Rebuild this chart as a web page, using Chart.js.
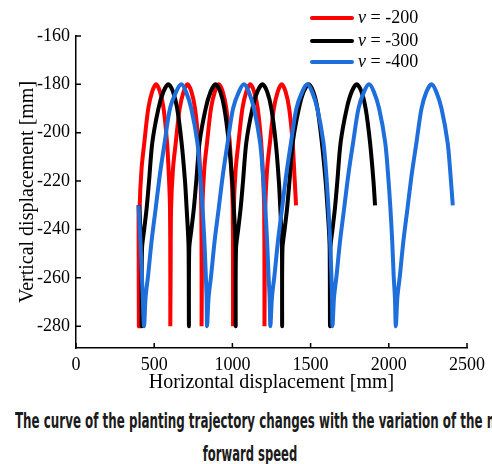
<!DOCTYPE html>
<html>
<head>
<meta charset="utf-8">
<script src="https://cdn.jsdelivr.net/npm/chart.js@4.4.1/dist/chart.umd.min.js"></script>
<style>
  body { margin: 0; background: #fff; }
  #wrap { position: relative; width: 492px; height: 464px; overflow: hidden; }
  #caption1, #caption2 {
    position: absolute; left: 0;
    font-family: "DejaVu Sans", sans-serif;
    font-weight: bold; font-size: 21px; color: #1b1b1b; white-space: nowrap;
  }
  #caption1 { top: 409px; left: 15px; transform: scaleX(0.566); transform-origin: left center; }
  #caption2 { top: 442px; width: 492px; text-align: center; left: 4px; transform: scaleX(0.552); transform-origin: center center; }
</style>
</head>
<body>
<div id="wrap">
  <canvas id="chart" width="492" height="400"></canvas>
  <div id="caption1">The curve of the planting trajectory changes with the variation of the m</div>
  <div id="caption2">forward speed</div>
</div>
<script>
// series (mm)
const seriesNames = ['-200', '-300', '-400'];

const redX = [400, 401, 402,
  404, 407, 419, 437, 462, 487, 512, 537, 560, 582, 594, 601, 603, 603,
  605, 608, 620, 638, 663, 688, 713, 738, 761, 783, 795, 801, 803, 803,
  805, 808, 820, 838, 863, 888, 913, 938, 961, 983, 995, 1002, 1004, 1004,
  1006, 1009, 1021, 1039, 1064, 1089, 1114, 1139, 1162, 1184, 1196, 1203, 1205, 1205,
  1207, 1210, 1222, 1240, 1265, 1290, 1315, 1340, 1363, 1385, 1397, 1407];
const redY = [-230, -258, -280,
  -258, -231, -215, -204, -190, -183, -180, -183, -190, -204, -218, -231, -258, -280,
  -258, -231, -215, -204, -190, -183, -180, -183, -190, -204, -218, -231, -258, -280,
  -258, -231, -215, -204, -190, -183, -180, -183, -190, -204, -218, -231, -258, -280,
  -258, -231, -215, -204, -190, -183, -180, -183, -190, -204, -218, -231, -258, -280,
  -258, -231, -215, -204, -190, -183, -180, -183, -190, -204, -218, -230];

const blackX = [404, 412, 418, 420,
  422, 436, 452, 467, 488, 527, 559, 590, 620, 647, 675, 697, 707, 715, 720, 722,
  724, 738, 754, 769, 790, 829, 861, 892, 922, 949, 977, 999, 1009, 1016, 1020, 1021,
  1023, 1037, 1053, 1068, 1089, 1128, 1160, 1192, 1222, 1249, 1277, 1297, 1306, 1313, 1317, 1318,
  1320, 1334, 1350, 1365, 1386, 1425, 1456, 1487, 1517, 1544, 1572, 1596, 1608, 1617, 1622, 1624,
  1626, 1640, 1656, 1671, 1692, 1731, 1763, 1795, 1825, 1852, 1880, 1902, 1912];
const blackY = [-230, -240, -248, -280,
  -248, -240, -231, -220, -204, -190, -183, -180, -183, -190, -204, -220, -231, -240, -248, -280,
  -248, -240, -231, -220, -204, -190, -183, -180, -183, -190, -204, -220, -231, -240, -248, -280,
  -248, -240, -231, -220, -204, -190, -183, -180, -183, -190, -204, -220, -231, -240, -248, -280,
  -248, -240, -231, -220, -204, -190, -183, -180, -183, -190, -204, -220, -231, -240, -248, -280,
  -248, -240, -231, -220, -204, -190, -183, -180, -183, -190, -204, -220, -230];

const blueX = [400, 412, 421, 427,
  435, 445, 461, 483, 510, 537, 567, 601, 641, 673, 703, 737, 776, 794, 809, 821, 830, 835,
  838, 848, 864, 886, 913, 940, 970, 1004, 1042, 1074, 1104, 1138, 1177, 1195, 1210, 1222, 1231, 1238,
  1243, 1253, 1269, 1291, 1318, 1345, 1375, 1409, 1447, 1479, 1509, 1543, 1582, 1600, 1614, 1625, 1633, 1637,
  1640, 1650, 1666, 1688, 1715, 1742, 1772, 1806, 1842, 1874, 1904, 1938, 1977, 1995, 2010, 2022, 2031, 2039,
  2045, 2055, 2071, 2093, 2120, 2147, 2177, 2209, 2241, 2273, 2303, 2337, 2376, 2394, 2409];
const blueY = [-230, -245, -259, -268,
  -280, -268, -259, -245, -231, -217, -204, -190, -183, -180, -183, -190, -204, -217, -231, -245, -259, -268,
  -280, -268, -259, -245, -231, -217, -204, -190, -183, -180, -183, -190, -204, -217, -231, -245, -259, -268,
  -280, -268, -259, -245, -231, -217, -204, -190, -183, -180, -183, -190, -204, -217, -231, -245, -259, -268,
  -280, -268, -259, -245, -231, -217, -204, -190, -183, -180, -183, -190, -204, -217, -231, -245, -259, -268,
  -280, -268, -259, -245, -231, -217, -204, -190, -183, -180, -183, -190, -204, -217, -230];

const xTicks = [0, 500, 1000, 1500, 2000, 2500];
const yTicks = [-280, -260, -240, -220, -200, -180, -160];

const colors = ['#ff0000', '#000000', '#1e6fdc'];

function toPoints(xs, ys) {
  return xs.map((x, i) => ({ x: x, y: ys[i] }));
}

// inward tick marks, like the original plot
const inwardTicks = {
  id: 'inwardTicks',
  afterDraw(chart) {
    const ctx = chart.ctx;
    const xs = chart.scales.x, ys = chart.scales.y;
    ctx.save();
    ctx.strokeStyle = '#000';
    ctx.lineWidth = 1.5;
    ctx.beginPath();
    xTicks.forEach(v => {
      const px = xs.getPixelForValue(v);
      ctx.moveTo(px, xs.top);
      ctx.lineTo(px, xs.top - 5);
    });
    yTicks.forEach(v => {
      const py = ys.getPixelForValue(v);
      ctx.moveTo(ys.right, py);
      ctx.lineTo(ys.right + 5, py);
    });
    ctx.stroke();
    ctx.restore();
  }
};

// legend with italic v
const vLegend = {
  id: 'vLegend',
  afterDraw(chart) {
    const ctx = chart.ctx;
    const rows = [18, 41, 62];
    ctx.save();
    rows.forEach((y, i) => {
      ctx.strokeStyle = colors[i];
      ctx.lineWidth = 4;
      ctx.lineCap = 'round';
      ctx.beginPath();
      ctx.moveTo(312, y);
      ctx.lineTo(352, y);
      ctx.stroke();
      ctx.fillStyle = '#000';
      ctx.textBaseline = 'middle';
      ctx.font = 'italic 18px "Liberation Serif"';
      ctx.fillText('v', 358, y);
      const w = ctx.measureText('v').width;
      ctx.font = '18px "Liberation Serif"';
      ctx.fillText(' = ' + seriesNames[i], 358 + w, y);
    });
    ctx.restore();
  }
};

Chart.defaults.font.family = '"Liberation Serif", serif';
Chart.defaults.color = '#000';

const ctx = document.getElementById('chart').getContext('2d');
const chart = new Chart(ctx, {
  type: 'scatter',
  data: {
    datasets: [
      { label: 'v = ' + seriesNames[0], data: toPoints(redX, redY), borderColor: colors[0], order: 3 },
      { label: 'v = ' + seriesNames[1], data: toPoints(blackX, blackY), borderColor: colors[1], order: 2 },
      { label: 'v = ' + seriesNames[2], data: toPoints(blueX, blueY), borderColor: colors[2], order: 1 }
    ]
  },
  options: {
    responsive: false,
    animation: false,
    showLine: true,
    datasets: {
      scatter: { showLine: true, pointRadius: 0, borderWidth: 4, tension: 0.3, fill: false }
    },
    layout: { padding: { top: 36, right: 25, left: 0, bottom: 0 } },
    plugins: {
      legend: { display: false },
      tooltip: { enabled: false }
    },
    scales: {
      x: {
        type: 'linear',
        min: 0,
        max: 2500,
        afterBuildTicks: s => { s.ticks = xTicks.map(v => ({ value: v })); },
        afterFit: s => { s.height = 52; },
        grid: { display: false, drawTicks: false },
        border: { display: true, color: '#000', width: 1.5 },
        ticks: { color: '#000', padding: 6, font: { size: 18 }, callback: v => String(v) },
        title: {
          display: true, text: 'Horizontal displacement [mm]', color: '#000',
          font: { size: 20 }, padding: { top: 0, bottom: 5 }
        }
      },
      y: {
        type: 'linear',
        min: -289,
        max: -160,
        afterBuildTicks: s => { s.ticks = yTicks.map(v => ({ value: v })); },
        afterFit: s => { s.width = 76; },
        grid: { display: false, drawTicks: false },
        border: { display: true, color: '#000', width: 1.5 },
        ticks: { color: '#000', padding: 6, font: { size: 18 }, callback: v => String(v) },
        title: {
          display: true, text: 'Vertical displacement [mm]', color: '#000',
          font: { size: 20 }, padding: { top: 16, bottom: 0 }
        }
      }
    }
  },
  plugins: [inwardTicks, vLegend]
});
</script>
</body>
</html>
